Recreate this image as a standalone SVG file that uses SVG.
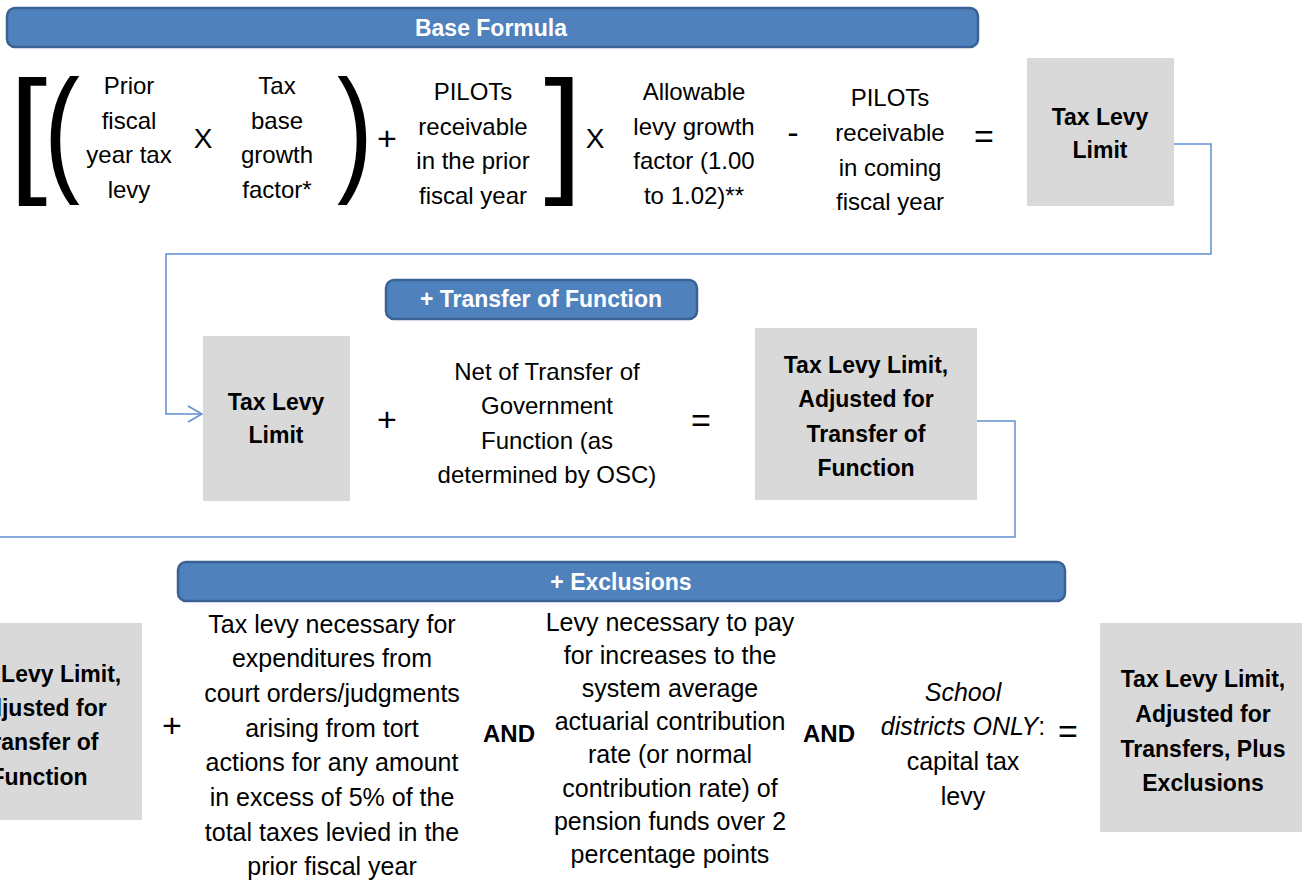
<svg xmlns="http://www.w3.org/2000/svg" width="1306" height="888" viewBox="0 0 1306 888">
<defs>
<style>
text{font-family:"Liberation Sans",Arial,sans-serif;fill:#000}
.hdr rect{fill:#4f81bd;stroke:#3a6294;stroke-width:2.5}
.hdr text{fill:#fff;font-weight:bold;font-size:23px;text-anchor:middle}
.box{fill:#d9d9d9}
.bt{font-weight:bold;font-size:23px;text-anchor:middle}
.t{font-size:24px;text-anchor:middle}
.tb{font-size:25px;text-anchor:middle}
.op{font-size:34px;text-anchor:middle}
.x{font-size:28px;text-anchor:middle}
.and{font-weight:bold;font-size:24px;text-anchor:middle}
.brk{font-size:138px}
.conn{fill:none;stroke:#5e8fd0;stroke-width:1.5}
</style>
<marker id="arr" viewBox="0 0 16 18" refX="15" refY="9" markerWidth="16" markerHeight="18" markerUnits="userSpaceOnUse" orient="auto">
<path d="M1,1 L15,9 L1,17" fill="none" stroke="#5e8fd0" stroke-width="1.5"/>
</marker>
</defs>
<rect width="1306" height="888" fill="#fff"/>

<g id="connectors">
<path class="conn" d="M1174,144 H1211 V254 H166 V414 H202" marker-end="url(#arr)"/>
<path class="conn" d="M977,421 H1015 V537 H0"/>
</g>

<g id="hdr-base" class="hdr">
<rect x="7" y="8" width="971" height="39" rx="8"/>
<text x="491" y="36">Base Formula</text>
</g>

<g id="formula-base">
<text class="brk" x="9" y="177">[</text>
<text class="brk" transform="translate(44,176) scale(0.78,1)">(</text>
<text class="t"><tspan x="129" y="94">Prior</tspan><tspan x="129" y="128.5">fiscal</tspan><tspan x="129" y="163">year tax</tspan><tspan x="129" y="197.5">levy</tspan></text>
<text class="x" x="203" y="148">X</text>
<text class="t"><tspan x="277" y="94">Tax</tspan><tspan x="277" y="128.5">base</tspan><tspan x="277" y="163">growth</tspan><tspan x="277" y="197.5">factor*</tspan></text>
<text class="brk" transform="translate(337,176) scale(0.78,1)">)</text>
<text class="op" x="387" y="150">+</text>
<text class="t"><tspan x="473" y="100">PILOTs</tspan><tspan x="473" y="134.5">receivable</tspan><tspan x="473" y="169">in the prior</tspan><tspan x="473" y="203.5">fiscal year</tspan></text>
<text class="brk" x="544" y="177">]</text>
<text class="x" x="595" y="148">X</text>
<text class="t"><tspan x="694" y="100">Allowable</tspan><tspan x="694" y="134.5">levy growth</tspan><tspan x="694" y="169">factor (1.00</tspan><tspan x="694" y="203.5">to 1.02)**</tspan></text>
<text class="op" x="793" y="144">-</text>
<text class="t"><tspan x="890" y="106">PILOTs</tspan><tspan x="890" y="141">receivable</tspan><tspan x="890" y="176">in coming</tspan><tspan x="890" y="210">fiscal year</tspan></text>
<text class="op" x="984" y="148">=</text>
</g>

<g id="node-limit1">
<rect class="box" x="1027" y="58" width="147" height="148"/>
<text class="bt"><tspan x="1100" y="125">Tax Levy</tspan><tspan x="1100" y="158">Limit</tspan></text>
</g>

<g id="hdr-transfer" class="hdr">
<rect x="386" y="280" width="311" height="39" rx="8"/>
<text x="541" y="307">+ Transfer of Function</text>
</g>

<g id="node-limit2">
<rect class="box" x="203" y="336" width="147" height="165"/>
<text class="bt"><tspan x="276" y="410">Tax Levy</tspan><tspan x="276" y="443">Limit</tspan></text>
</g>

<g id="formula-transfer">
<text class="op" x="387" y="431">+</text>
<text class="t"><tspan x="547" y="380">Net of Transfer of</tspan><tspan x="547" y="414">Government</tspan><tspan x="547" y="449">Function (as</tspan><tspan x="547" y="483">determined by OSC)</tspan></text>
<text class="op" x="701" y="432">=</text>
</g>

<g id="node-adjusted">
<rect class="box" x="755" y="328" width="222" height="172"/>
<text class="bt"><tspan x="866" y="373">Tax Levy Limit,</tspan><tspan x="866" y="407">Adjusted for</tspan><tspan x="866" y="442">Transfer of</tspan><tspan x="866" y="476">Function</tspan></text>
</g>

<g id="hdr-exclusions" class="hdr">
<rect x="178" y="562" width="887" height="39" rx="8"/>
<text x="621" y="590">+ Exclusions</text>
</g>

<g id="node-adjusted2">
<rect class="box" x="-70" y="623" width="212" height="197"/>
<text class="bt"><tspan x="39" y="682">Tax Levy Limit,</tspan><tspan x="39" y="716">Adjusted for</tspan><tspan x="39" y="750">Transfer of</tspan><tspan x="39" y="785">Function</tspan></text>
</g>

<g id="formula-exclusions">
<text class="op" x="172" y="737">+</text>
<text class="tb"><tspan x="332" y="633">Tax levy necessary for</tspan><tspan x="332" y="667">expenditures from</tspan><tspan x="332" y="702">court orders/judgments</tspan><tspan x="332" y="737">arising from tort</tspan><tspan x="332" y="771">actions for any amount</tspan><tspan x="332" y="806">in excess of 5% of the</tspan><tspan x="332" y="841">total taxes levied in the</tspan><tspan x="332" y="875">prior fiscal year</tspan></text>
<text class="and" x="509" y="742">AND</text>
<text class="tb"><tspan x="670" y="631">Levy necessary to pay</tspan><tspan x="670" y="664">for increases to the</tspan><tspan x="670" y="697">system average</tspan><tspan x="670" y="730">actuarial contribution</tspan><tspan x="670" y="763">rate (or normal</tspan><tspan x="670" y="797">contribution rate) of</tspan><tspan x="670" y="830">pension funds over 2</tspan><tspan x="670" y="863">percentage points</tspan></text>
<text class="and" x="829" y="742">AND</text>
<text class="tb"><tspan x="963" y="701" font-style="italic">School</tspan><tspan x="963" y="735"><tspan font-style="italic">districts ONLY</tspan>:</tspan><tspan x="963" y="770">capital tax</tspan><tspan x="963" y="805">levy</tspan></text>
<text class="op" x="1068" y="743">=</text>
</g>

<g id="node-final">
<rect class="box" x="1100" y="623" width="202" height="209"/>
<text class="bt"><tspan x="1203" y="687">Tax Levy Limit,</tspan><tspan x="1203" y="722">Adjusted for</tspan><tspan x="1203" y="757">Transfers, Plus</tspan><tspan x="1203" y="791">Exclusions</tspan></text>
</g>
</svg>
